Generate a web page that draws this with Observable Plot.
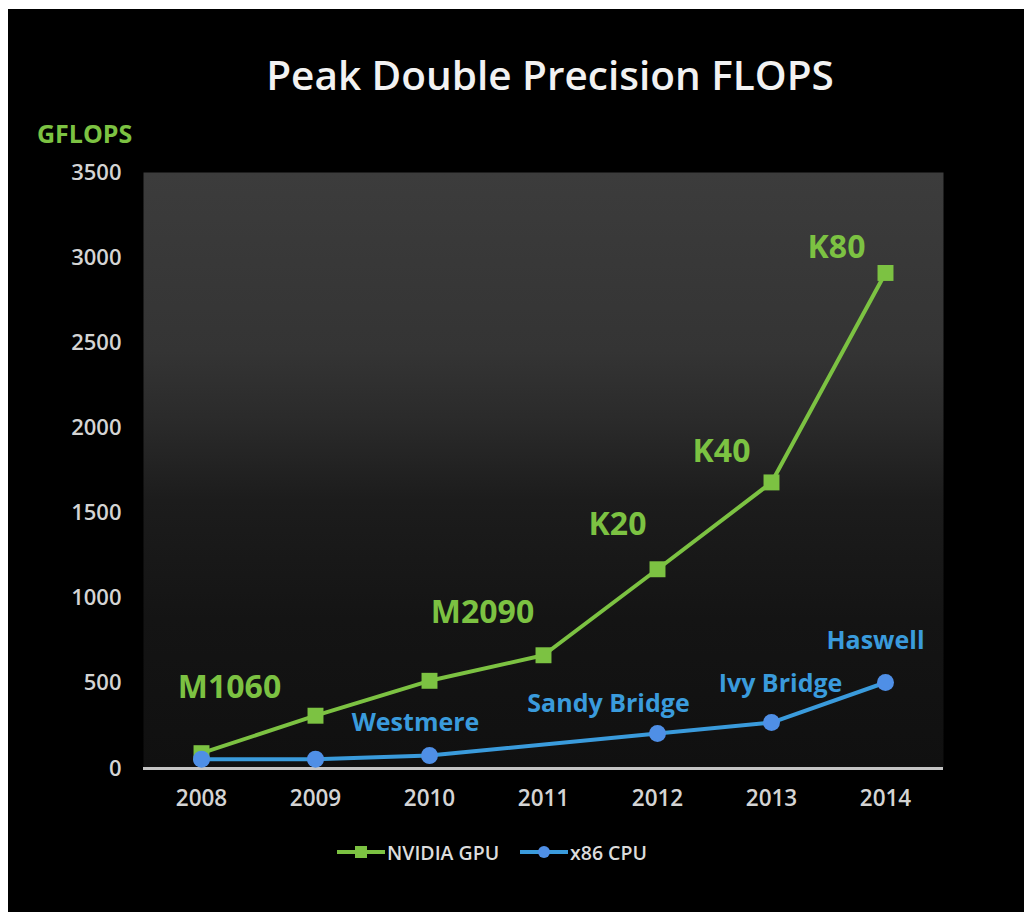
<!DOCTYPE html>
<html>
<head>
<meta charset="utf-8">
<script src="https://cdn.jsdelivr.net/npm/d3@7"></script>
<script src="https://cdn.jsdelivr.net/npm/@observablehq/plot@0.6"></script>
<style>
  html, body { margin: 0; padding: 0; background: #fff; }
  body { width: 1024px; height: 912px; position: relative; overflow: hidden; font-family: "Open Sans", sans-serif; }
  #bg { position: absolute; left: 8px; top: 9px; right: 0; bottom: 0; background: #000; }
  #title { position: absolute; left: 200px; width: 700px; top: 50px; text-align: center; color: #f2f2f2;
           font-size: 40.5px; line-height: 50px; font-weight: 600; }
  #ylabel { position: absolute; left: 37px; top: 117px; color: #7cc242; font-size: 25px; line-height: 32px; font-weight: 700; }
  #chart { position: absolute; left: 8px; top: 100px; }
  .leg { position: absolute; top: 838px; height: 28px; display: flex; align-items: center; color: #dcdcdc;
         font-size: 19.5px; font-weight: 600; }
  .leg svg { margin-right: 2px; }
</style>
</head>
<body>
<div id="bg"></div>
<div id="title">Peak Double Precision FLOPS</div>
<div id="ylabel">GFLOPS</div>
<div id="chart"></div>
<div class="leg" style="left:337px"><svg width="48" height="20"><line x1="0" y1="10" x2="48" y2="10" stroke="#7cc242" stroke-width="4"/><rect x="18" y="4" width="12" height="12" fill="#7cc242"/></svg>NVIDIA GPU</div>
<div class="leg" style="left:520px"><svg width="48" height="20"><line x1="0" y1="10" x2="48" y2="10" stroke="#3a9bdc" stroke-width="4"/><circle cx="24" cy="10" r="6" fill="#4f8fe6"/></svg>x86 CPU</div>
<script>
const years = [2008, 2009, 2010, 2011, 2012, 2013, 2014];
const gpuValues = [90, 310, 515, 665, 1170, 1680, 2910];
const cpuValues = [55, 55, 76, null, 205, 270, 505];
const gpuLabels = ["M1060", "", "", "M2090", "K20", "K40", "K80"];
const cpuLabels = ["", "", "Westmere", "", "Sandy Bridge", "Ivy Bridge", "Haswell"];
const yTicks = [0, 500, 1000, 1500, 2000, 2500, 3000, 3500];

const green = "#7cc242";
const blue = "#3a9bdc";
const blueDot = "#4f8fe6";

const gpu = years.map((year, i) => ({year, value: gpuValues[i], label: gpuLabels[i]}));
const cpu = years.map((year, i) => ({year, value: cpuValues[i], label: cpuLabels[i]})).filter(d => d.value != null);

// label offsets (styling)
const offsets = {
  "M1060": [28, -65], "M2090": [-61, -43], "K20": [-40, -45], "K40": [-50, -31], "K80": [-49, -25],
  "Westmere": [-14, -33], "Sandy Bridge": [-49, -30], "Ivy Bridge": [9, -39], "Haswell": [-10, -42]
};

const labelMarks = [];
for (const [data, color, size, spacing] of [[gpu, green, 32, "1px"], [cpu, blue, 25, "0px"]]) {
  for (const d of data.filter(d => d.label)) {
    const [dx, dy] = offsets[d.label];
    labelMarks.push(Plot.text([d], {x: "year", y: "value", text: "label", dx, dy, fill: color,
      fontSize: size, fontWeight: "bold", textAnchor: "middle", style: {letterSpacing: spacing}}));
  }
}

const chart = Plot.plot({
  width: 1016, height: 730,
  marginLeft: 135, marginRight: 81, marginTop: 72, marginBottom: 62,
  style: {background: "transparent", color: "#d4d4d4", fontFamily: "Open Sans", fontSize: "22px", fontWeight: "600", overflow: "visible"},
  x: {type: "point", domain: years, label: null, tickSize: 0, tickPadding: 22, tickFormat: d => String(d)},
  y: {domain: [0, 3500], ticks: yTicks, label: null, tickSize: 0, tickPadding: 22, tickFormat: d => String(d)},
  marks: [
    Plot.frame({fill: "url(#plotbg)", stroke: "none"}),
    Plot.ruleY([0], {stroke: "#c4c4c4", strokeWidth: 3}),
    Plot.line(gpu, {x: "year", y: "value", stroke: green, strokeWidth: 4}),
    Plot.dot(gpu, {x: "year", y: "value", symbol: "square", r: 9, fill: green}),
    Plot.line(cpu, {x: "year", y: "value", stroke: blue, strokeWidth: 4}),
    Plot.dot(cpu, {x: "year", y: "value", r: 8.5, fill: blueDot}),
    ...labelMarks
  ]
});

d3.select(chart).selectAll('g[aria-label^="x-axis"] text').attr("font-size", 22.5);

const defs = document.createElementNS("http://www.w3.org/2000/svg", "defs");
defs.innerHTML = `<linearGradient id="plotbg" x1="0" y1="0" x2="0" y2="1">
  <stop offset="0" stop-color="#3c3c3c"/>
  <stop offset="0.3" stop-color="#343434"/>
  <stop offset="0.42" stop-color="#2a2a2a"/>
  <stop offset="0.55" stop-color="#1c1c1c"/>
  <stop offset="0.75" stop-color="#141414"/>
  <stop offset="1" stop-color="#101010"/>
</linearGradient>`;
chart.insertBefore(defs, chart.firstChild);
document.getElementById("chart").appendChild(chart);
</script>
</body>
</html>
